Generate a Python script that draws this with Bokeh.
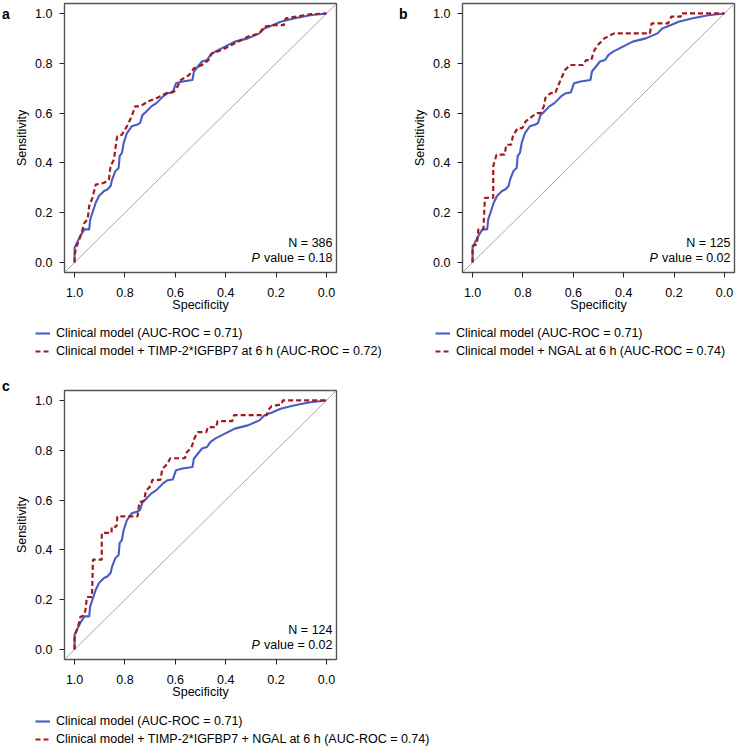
from bokeh.plotting import figure
from bokeh.models import Range1d, FixedTicker, Slope, Label, Legend, LegendItem, Div
from bokeh.layouts import column, row
from bokeh.embed import file_html
from bokeh.resources import INLINE

# ---------------- data ----------------
tick_vals = [0.0, 0.2, 0.4, 0.6, 0.8, 1.0]
tick_labels = ["0.0", "0.2", "0.4", "0.6", "0.8", "1.0"]

# Clinical model ROC (same curve in all panels)
clin_spec = [1.0, 1.0, 0.994, 0.977, 0.961, 0.942, 0.938, 0.929, 0.916, 0.903,
             0.883, 0.870, 0.857, 0.851, 0.838, 0.825, 0.821, 0.812, 0.805, 0.792,
             0.773, 0.753, 0.740, 0.730, 0.714, 0.695, 0.675, 0.649, 0.630, 0.610,
             0.597, 0.571, 0.532, 0.526, 0.494, 0.474, 0.461, 0.442, 0.403, 0.364,
             0.312, 0.266, 0.247, 0.214, 0.182, 0.130, 0.065, 0.0]
clin_sens = [0.0, 0.06, 0.073, 0.107, 0.133, 0.133, 0.173, 0.200, 0.240, 0.267,
             0.287, 0.293, 0.307, 0.333, 0.367, 0.380, 0.427, 0.440, 0.480, 0.520,
             0.547, 0.553, 0.560, 0.593, 0.607, 0.627, 0.640, 0.667, 0.680, 0.683,
             0.720, 0.727, 0.733, 0.767, 0.807, 0.813, 0.833, 0.847, 0.867, 0.887,
             0.900, 0.920, 0.940, 0.953, 0.967, 0.980, 0.993, 1.0]

# Clinical model + TIMP-2*IGFBP7
timp_spec = [1.0, 1.0, 0.994, 0.981, 0.968, 0.961, 0.948, 0.942, 0.929, 0.916,
             0.883, 0.864, 0.857, 0.844, 0.831, 0.812, 0.792, 0.773, 0.760, 0.740,
             0.708, 0.675, 0.636, 0.604, 0.591, 0.578, 0.545, 0.526, 0.494, 0.468,
             0.455, 0.416, 0.364, 0.312, 0.266, 0.247, 0.208, 0.169, 0.162, 0.104,
             0.065, 0.0]
timp_sens = [0.0, 0.027, 0.06, 0.093, 0.133, 0.160, 0.173, 0.227, 0.260, 0.313,
             0.320, 0.333, 0.387, 0.413, 0.507, 0.513, 0.547, 0.587, 0.627, 0.627,
             0.647, 0.660, 0.680, 0.687, 0.707, 0.733, 0.753, 0.780, 0.793, 0.813,
             0.840, 0.853, 0.880, 0.907, 0.920, 0.947, 0.953, 0.953, 0.980, 0.990,
             0.997, 1.0]

# Clinical model + NGAL
ngal_spec = [1.0, 1.0, 0.983, 0.977, 0.957, 0.951, 0.918, 0.918, 0.905, 0.873,
             0.866, 0.847, 0.840, 0.821, 0.802, 0.789, 0.763, 0.743, 0.730, 0.717,
             0.711, 0.691, 0.672, 0.659, 0.633, 0.613, 0.562, 0.549, 0.529, 0.516,
             0.503, 0.477, 0.438, 0.296, 0.289, 0.224, 0.211, 0.173, 0.173, 0.0]
ngal_sens = [0.0, 0.067, 0.073, 0.133, 0.133, 0.260, 0.260, 0.387, 0.433, 0.433,
             0.473, 0.473, 0.507, 0.540, 0.540, 0.567, 0.587, 0.600, 0.600, 0.627,
             0.660, 0.680, 0.680, 0.713, 0.773, 0.793, 0.793, 0.813, 0.813, 0.853,
             0.873, 0.900, 0.920, 0.920, 0.960, 0.960, 0.987, 0.987, 1.0, 1.0]

# Clinical model + TIMP-2*IGFBP7 + NGAL
comb_spec = [1.0, 1.0, 0.996, 0.983, 0.977, 0.964, 0.957, 0.951, 0.931, 0.927,
             0.892, 0.892, 0.853, 0.853, 0.834, 0.830, 0.750, 0.743, 0.724, 0.717,
             0.698, 0.691, 0.659, 0.652, 0.633, 0.620, 0.562, 0.555, 0.536, 0.523,
             0.510, 0.477, 0.471, 0.438, 0.432, 0.374, 0.367, 0.237, 0.231, 0.218,
             0.179, 0.173, 0.0]
comb_sens = [0.0, 0.044, 0.064, 0.104, 0.131, 0.137, 0.157, 0.211, 0.211, 0.361,
             0.361, 0.468, 0.468, 0.493, 0.493, 0.535, 0.535, 0.591, 0.597, 0.637,
             0.657, 0.681, 0.681, 0.724, 0.744, 0.768, 0.768, 0.791, 0.811, 0.851,
             0.873, 0.873, 0.893, 0.893, 0.917, 0.917, 0.941, 0.941, 0.961, 0.977,
             0.984, 1.0, 1.0]

panel_letters = ["a", "b", "c"]
n_values = [386, 125, 124]
p_values = ["0.18", "0.02", "0.02"]
legend_clin = "Clinical model (AUC-ROC = 0.71)"
legend_new = ["Clinical model + TIMP-2*IGFBP7 at 6 h (AUC-ROC = 0.72)",
              "Clinical model + NGAL at 6 h (AUC-ROC = 0.74)",
              "Clinical model + TIMP-2*IGFBP7 + NGAL at 6 h (AUC-ROC = 0.74)"]

# ---------------- style ----------------
FONT = "Liberation Sans"
FS = "12.5px"
BLUE = "#4a5bc4"
RED = "#a31a1d"
BLUE_W = 2.1
RED_W = 2.2
RED_DASH = "5 3"
FRAME_W = 277
FRAME_H = 269


def letter_div(width, height, letter, top, left):
    html = ('<div style="font-family:\'Liberation Sans\',Arial,sans-serif;'
            'font-size:14px;font-weight:bold;color:#000;line-height:18px;'
            f'margin:{top}px 0 0 {left}px;">{letter}</div>')
    return Div(text=html, width=width, height=height, margin=0)


def legend_fig(width, height, red_spec, red_sens, label2, x, y):
    # legend-only strip: curves lie outside its (hidden) ranges,
    # only their legend glyphs are shown
    f = figure(width=width, height=height, x_range=Range1d(2, 3),
               y_range=Range1d(2, 3), x_axis_type=None, y_axis_type=None,
               output_backend="svg", toolbar_location=None, min_border=0)
    f.outline_line_color = None
    f.xgrid.grid_line_color = None
    f.ygrid.grid_line_color = None
    rb = f.line(clin_spec, clin_sens, line_color=BLUE, line_width=BLUE_W)
    rr = f.line(red_spec, red_sens, line_color=RED, line_width=RED_W,
                line_dash=RED_DASH)
    leg = Legend(items=[LegendItem(label=legend_clin, renderers=[rb]),
                        LegendItem(label=label2, renderers=[rr])],
                 location=(x, y), orientation="vertical",
                 padding=0, margin=0, spacing=0,
                 glyph_width=15, glyph_height=18, label_height=18,
                 label_standoff=6,
                 label_text_font=FONT, label_text_font_size=FS,
                 label_text_color="black",
                 background_fill_alpha=0, border_line_color=None)
    f.add_layout(leg)
    return f


def make_panel(width, height, left, top, red_spec, red_sens, n, pval):
    bottom = height - top - FRAME_H
    right = width - left - FRAME_W
    p = figure(width=width, height=height,
               x_range=Range1d(1.04, -0.04), y_range=Range1d(-0.04, 1.04),
               output_backend="svg", toolbar_location=None,
               min_border_left=left, min_border_right=right,
               min_border_top=top, min_border_bottom=bottom)
    p.background_fill_color = "white"
    p.border_fill_color = "white"
    p.outline_line_color = "#555555"
    p.outline_line_width = 1.4
    p.xgrid.grid_line_color = None
    p.ygrid.grid_line_color = None

    for ax in (p.xaxis[0], p.yaxis[0]):
        ax.ticker = FixedTicker(ticks=tick_vals)
        ax.major_label_overrides = {v: s for v, s in zip(tick_vals, tick_labels)}
        ax.axis_line_color = None
        ax.major_tick_in = 0
        ax.major_tick_out = 5
        ax.major_tick_line_color = "#222222"
        ax.minor_tick_line_color = None
        ax.major_label_text_font = FONT
        ax.major_label_text_font_size = FS
        ax.major_label_text_color = "black"
        ax.axis_label_text_font = FONT
        ax.axis_label_text_font_size = FS
        ax.axis_label_text_font_style = "normal"
        ax.axis_label_text_color = "black"
    p.xaxis.axis_label = "Specificity"
    p.yaxis.axis_label = "Sensitivity"
    p.xaxis.major_label_standoff = 10
    p.yaxis.major_label_standoff = 7
    p.xaxis.axis_label_standoff = -2
    p.yaxis.axis_label_standoff = 3

    p.add_layout(Slope(gradient=-1, y_intercept=1, line_color="#a8a8a8",
                       line_width=1, level="underlay"))

    p.line(clin_spec, clin_sens, line_color=BLUE, line_width=BLUE_W)
    p.line(red_spec, red_sens, line_color=RED, line_width=RED_W,
           line_dash=RED_DASH)

    common = dict(x_units="screen", y_units="screen", text_font=FONT,
                  text_font_size=FS, text_color="black", text_baseline="middle")
    p.add_layout(Label(x=FRAME_W - 9, y=30, text=f"N = {n}", text_align="right",
                       **common))
    p.add_layout(Label(x=FRAME_W - 9, y=15, text=f"value = {pval}",
                       text_align="right", **common))
    p.add_layout(Label(x=FRAME_W - 90, y=15, text="P", text_align="left",
                       text_font_style="italic", **common))
    return p


TOP_H = 316   # height of the top row of plots
pa = make_panel(358, TOP_H, 47, 3, timp_spec, timp_sens, n_values[0], p_values[0])
pb = make_panel(328, TOP_H, 47, 3, ngal_spec, ngal_sens, n_values[1], p_values[1])
la = letter_div(12, TOP_H, panel_letters[0], 5, 2)
lb = letter_div(40, TOP_H, panel_letters[1], 5, 29)

lega = legend_fig(410, 54, timp_spec, timp_sens, legend_new[0], 35, 10)
legb = legend_fig(328, 54, ngal_spec, ngal_sens, legend_new[1], 25, 10)

C_H = 333
pc = make_panel(358, C_H, 47, 20, comb_spec, comb_sens, n_values[2], p_values[2])
lc = letter_div(12, C_H, panel_letters[2], 7, 2)
legc = legend_fig(738, 43, comb_spec, comb_sens, legend_new[2], 35, -2)

layout = column(row(la, pa, lb, pb), row(lega, legb), row(lc, pc), legc)

open("out.html", "w").write(file_html(layout, INLINE))
